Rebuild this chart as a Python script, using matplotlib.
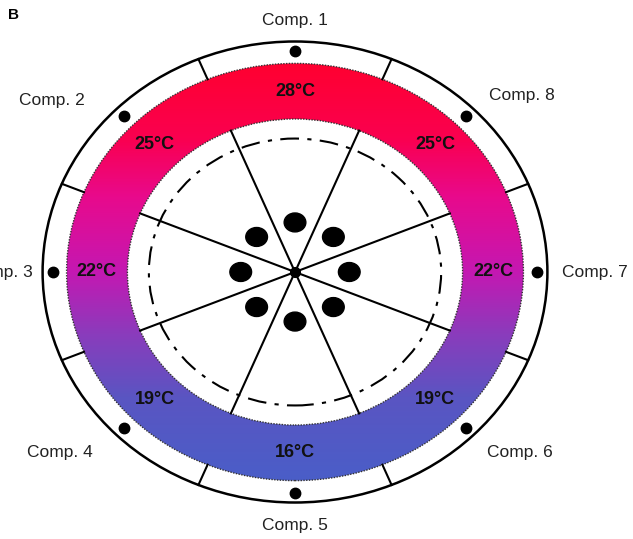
import numpy as np
import matplotlib.pyplot as plt
from matplotlib.patches import Wedge, Ellipse, Circle
from matplotlib.colors import LinearSegmentedColormap

plt.rcParams['font.family'] = ['Liberation Sans', 'DejaVu Sans']

comps = ["Comp. 1", "Comp. 2", "Comp. 3", "Comp. 4",
         "Comp. 5", "Comp. 6", "Comp. 7", "Comp. 8"]
comp_angles = [90, 135, 180, 225, 270, 315, 0, 45]
temps = [28, 25, 22, 19, 16, 19, 22, 25]

# label positions (axes data units, outer circle radius = 1)
label_xy = [(0.0, 1.093), (-0.963, 0.746), (-1.17, 0.0), (-0.931, -0.781),
            (0.0, -1.098), (0.891, -0.785), (1.19, 0.0), (0.90, 0.764)]

# radii relative to the outer circle
R_OUT = 1.0
R_BAND_OUT = 0.905
R_BAND_IN = 0.664
R_DASH = 0.579
R_RING_DOT = 0.96
R_INNER_DOT = 0.215
R_TEMP = 0.785

W, H = 633, 539
cx, cy = 295, 272
sy = 230.5
sx = sy * 1.095

fig = plt.figure(figsize=(W / 100, H / 100), dpi=100)
ax = fig.add_axes([0, 0, 1, 1])
ax.axis('off')

# gradient band
cmap = LinearSegmentedColormap.from_list("temp", [
    (0.0, "#ff0030"), (0.18, "#fa0050"), (0.32, "#e80a8c"),
    (0.5, "#c418b2"), (0.65, "#8a3cbc"), (0.8, "#5a55c2"), (1.0, "#4a5ec8")])
grad = np.linspace(0, 1, 256).reshape(-1, 1)
im = ax.imshow(grad, cmap=cmap, origin='upper', aspect='auto',
               extent=(-R_BAND_OUT, R_BAND_OUT, -R_BAND_OUT, R_BAND_OUT), zorder=1)
band = Wedge((0, 0), R_BAND_OUT, 0, 360, width=R_BAND_OUT - R_BAND_IN,
             facecolor='none', edgecolor='none')
ax.add_patch(band)
im.set_clip_path(band)

for r in (R_BAND_OUT, R_BAND_IN):
    ax.add_patch(Circle((0, 0), r, fill=False, edgecolor='#333333', lw=1.0,
                        linestyle=(0, (1, 1)), zorder=2))

ax.add_patch(Circle((0, 0), R_OUT, fill=False, edgecolor='black', lw=1.8, zorder=3))
ax.add_patch(Circle((0, 0), R_DASH, fill=False, edgecolor='black', lw=1.5,
                    linestyle=(0, (9, 4, 2, 4)), zorder=3))

# spokes and dividers
for k in range(8):
    a = np.deg2rad(22.5 + 45 * k)
    c, s = np.cos(a), np.sin(a)
    ax.plot([0, R_BAND_IN * c], [0, R_BAND_IN * s], color='black', lw=1.5, zorder=4)
    ax.plot([R_BAND_OUT * c, R_OUT * c], [R_BAND_OUT * s, R_OUT * s],
            color='black', lw=1.5, zorder=4)

# dots and labels
for name, ang, t, (lx, ly) in zip(comps, comp_angles, temps, label_xy):
    a = np.deg2rad(ang)
    c, s = np.cos(a), np.sin(a)
    ax.add_patch(Ellipse((R_INNER_DOT * c, R_INNER_DOT * s), 0.086, 0.082,
                         color='black', zorder=5))
    ax.plot(R_RING_DOT * c, R_RING_DOT * s, 'o', color='black', ms=7.5, zorder=5)
    ax.text(R_TEMP * c, R_TEMP * s, f"{t}°C", ha='center', va='center',
            fontsize=13, fontweight='bold', color='#111111', zorder=6)
    ax.text(lx, ly, name, ha='center', va='center', fontsize=12.5,
            color='#222222', zorder=6)

ax.plot(0, 0, 'o', color='black', ms=7, zorder=6)

fig.text(8 / W, 1 - 15 / H, "B", ha='left', va='center', fontsize=11,
         fontweight='bold')

ax.set_xlim(-cx / sx, (W - cx) / sx)
ax.set_ylim(-(H - cy) / sy, cy / sy)

fig.savefig("out.png", dpi=100)
